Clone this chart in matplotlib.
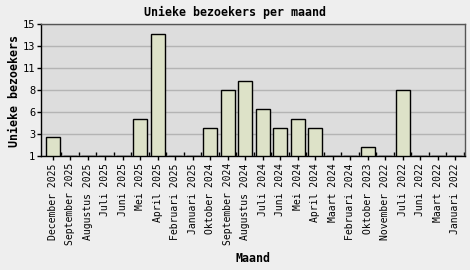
"""Unieke bezoekers per maand - bar chart."""

import matplotlib
matplotlib.use("Agg")
import matplotlib.pyplot as plt
import numpy as np

months = [
    "December 2025", "September 2025", "Augustus 2025", "Juli 2025", "Juni 2025",
    "Mei 2025", "April 2025", "Februari 2025", "Januari 2025", "Oktober 2024",
    "September 2024", "Augustus 2024", "Juli 2024", "Juni 2024", "Mei 2024",
    "April 2024", "Maart 2024", "Februari 2024", "Oktober 2023", "November 2022",
    "Juli 2022", "Juni 2022", "Maart 2022", "Januari 2022",
]
visitors = [3, 1, 1, 1, 1, 5, 14, 1, 1, 4, 8, 9, 6, 4, 5, 4, 1, 1, 2, 1, 8, 1, 1, 1]
ytick_labels = ["1", "3", "6", "8", "11", "13", "15"]

plt.rcParams["font.family"] = "DejaVu Sans Mono"

fig = plt.figure(figsize=(4.7, 2.7), dpi=100, facecolor="#eeeeee")
ax = fig.add_axes([41 / 470, 1 - 156.3 / 270, 424.3 / 470, 132 / 270])
ax.set_facecolor("#dddddd")

x = np.arange(len(months))
base = 1
ax.bar(x, np.array(visitors) - base, bottom=base, width=0.8,
       color="#dde2c8", edgecolor="black", linewidth=1, zorder=3)

ax.set_xlim(-0.66, len(months) - 0.42)
ax.set_ylim(1, 15)
yt = np.linspace(1, 15, len(ytick_labels))
ax.set_yticks(yt)
ax.set_yticklabels(ytick_labels, fontsize=7.5)
ax.yaxis.grid(True, color="#b4b4b4", linewidth=1, zorder=1)
ax.tick_params(axis="y", length=3, width=1, pad=1)

ax.set_xticks(x)
ax.set_xticklabels(months, rotation=90, fontsize=7)
ax.set_xticks(x + 0.5, minor=True)
ax.tick_params(axis="x", which="major", length=3, width=1, direction="out", pad=2)
ax.tick_params(axis="x", which="minor", length=3, width=1, direction="in")

for side in ["left", "bottom"]:
    ax.spines[side].set_color("black")
    ax.spines[side].set_linewidth(1)
for side in ["top", "right"]:
    ax.spines[side].set_color("#555555")
    ax.spines[side].set_linewidth(1)

fig.text(0.5, 1 - 12 / 270, "Unieke bezoekers per maand", ha="center", va="center",
         fontsize=8.4, fontweight="bold")
fig.text(15 / 470, 1 - 91 / 270, "Unieke bezoekers", ha="center", va="center",
         rotation=90, fontsize=8.4, fontweight="bold")
fig.text(253 / 470, 1 - 259 / 270, "Maand", ha="center", va="center",
         fontsize=8.4, fontweight="bold")

fig.savefig("out.png", dpi=100, facecolor=fig.get_facecolor())
